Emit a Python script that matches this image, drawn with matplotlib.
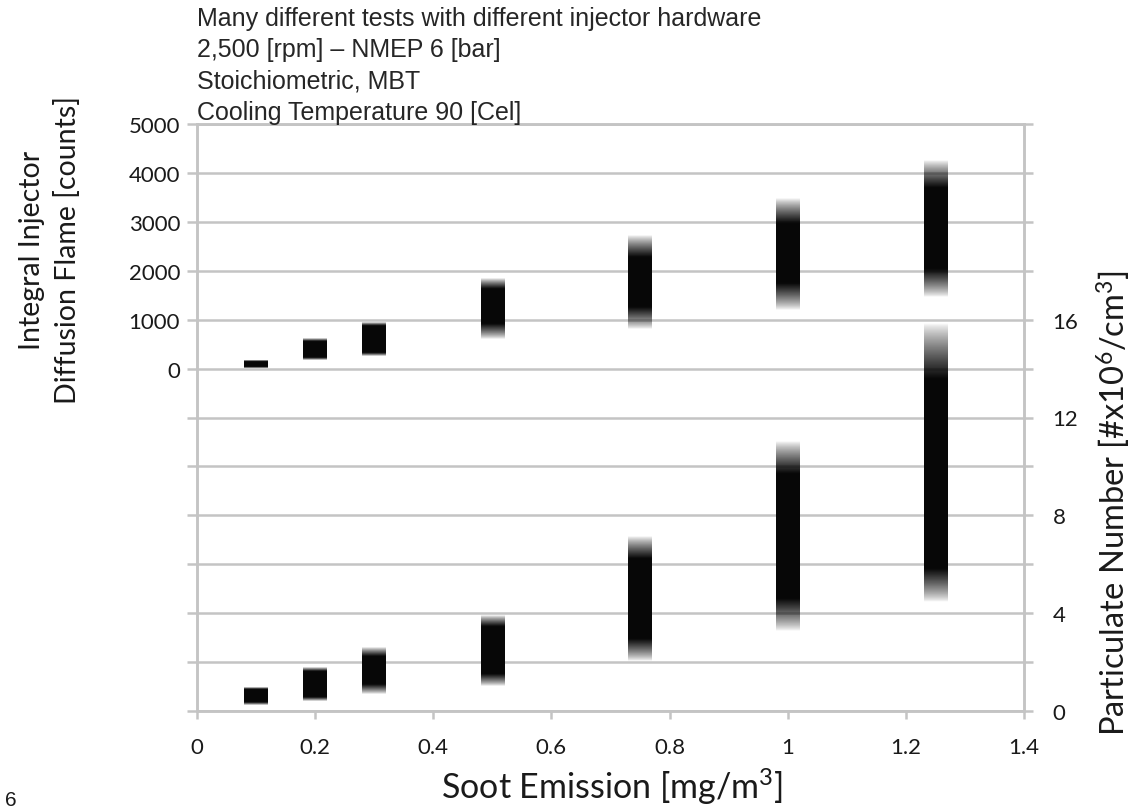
import numpy as np
import matplotlib
matplotlib.use("Agg")
import matplotlib.pyplot as plt

# ---------------- data ----------------
soot = [0.1, 0.2, 0.3, 0.5, 0.75, 1.0, 1.25]

# Integral injector diffusion flame [counts] (left axis): fade start, solid start, solid end, fade end
flame_outer_low = [20, 170, 260, 613, 818, 1192, 1472]
flame_core_low = [40, 220, 330, 920, 1262, 1738, 2040]
flame_core_high = [150, 540, 880, 1630, 2284, 2965, 3700]
flame_outer_high = [170, 600, 950, 1840, 2726, 3476, 4254]

# Particulate number [#x10^6/cm^3] (right axis)
pn_outer_low = [0.25, 0.41, 0.70, 1.02, 2.04, 3.27, 4.46]
pn_core_low = [0.37, 0.57, 1.10, 1.51, 2.94, 4.58, 5.81]
pn_core_high = [0.90, 1.60, 2.25, 3.44, 6.22, 9.69, 13.58]
pn_outer_high = [0.98, 1.76, 2.62, 3.89, 7.12, 11.0, 15.83]

x_ticks = [0, 0.2, 0.4, 0.6, 0.8, 1.0, 1.2, 1.4]
x_tick_labels = ["0", "0.2", "0.4", "0.6", "0.8", "1", "1.2", "1.4"]
left_labeled = [0, 1000, 2000, 3000, 4000, 5000]
right_labeled = [0, 4, 8, 12, 16]

title_lines = [
    "Many different tests with different injector hardware",
    "2,500 [rpm] \u2013 NMEP 6 [bar]",
    "Stoichiometric, MBT",
    "Cooling Temperature 90 [Cel]",
]

# ---------------- style ----------------
plt.rcParams["mathtext.fontset"] = "custom"
plt.rcParams["mathtext.rm"] = "Lato"
plt.rcParams["mathtext.it"] = "Lato:italic"
plt.rcParams["mathtext.bf"] = "Lato:bold"
LAB_FONT = ["Lato", "DejaVu Sans"]
TXT_FONT = ["Liberation Sans", "DejaVu Sans"]
GRID = "#c4c4c4"
TXT = "#1a1a1a"

W, H = 1137, 812
fig = plt.figure(figsize=(W / 100, H / 100), dpi=100)
x0, x1, y0, y1 = 197, 1024, 125, 712
ax = fig.add_axes([x0 / W, 1 - y1 / H, (x1 - x0) / W, (y1 - y0) / H])
ax2 = ax.twinx()

ax.set_xlim(0, 1.4)
ax.set_ylim(-7000, 5000)
ax2.set_ylim(0, 24)

# grid/ticks
left_all = list(range(-7000, 5001, 1000))
ax.set_yticks(left_all)
ax.set_yticklabels([str(v) if v in left_labeled else "" for v in left_all])
right_all = list(range(0, 25, 2))
ax2.set_yticks(right_all)
ax2.set_yticklabels([str(v) if v in right_labeled else "" for v in right_all])
ax.set_xticks(x_ticks)
ax.set_xticklabels(x_tick_labels)

ax.set_axisbelow(True)
ax.yaxis.grid(True, color=GRID, lw=1.8)
ax.xaxis.grid(False)

for a in (ax, ax2):
    for s in a.spines.values():
        s.set_color(GRID)
        s.set_linewidth(1.8)

ax.tick_params(axis="y", direction="out", length=7.2, width=1.8, color=GRID,
               pad=5, labelsize=16, labelcolor=TXT)
ax.tick_params(axis="x", direction="out", length=6, width=1.8, color=GRID,
               pad=13, labelsize=16, labelcolor=TXT)
ax2.tick_params(axis="y", direction="out", length=6.5, width=1.8, color=GRID,
                pad=14, labelsize=16, labelcolor=TXT)
for lab in ax.get_xticklabels() + ax.get_yticklabels() + ax2.get_yticklabels():
    lab.set_family(LAB_FONT)


def draw_band(axis, x, lo, clo, chi, hi, width=0.04):
    n = 500
    yy = np.linspace(lo, hi, n)
    a_lo = (yy - lo) / max(clo - lo, 1e-9)
    a_hi = (hi - yy) / max(hi - chi, 1e-9)
    alpha = np.clip(np.minimum(a_lo, a_hi), 0, 1) ** 0.8
    img = np.zeros((n, 1, 4))
    img[..., :3] = 0.03
    img[:, 0, 3] = alpha
    axis.imshow(img, extent=[x - width / 2, x + width / 2, lo, hi], origin="lower",
                aspect="auto", interpolation="bilinear", zorder=3)


for i, xv in enumerate(soot):
    draw_band(ax, xv, flame_outer_low[i], flame_core_low[i], flame_core_high[i], flame_outer_high[i])
    draw_band(ax2, xv, pn_outer_low[i], pn_core_low[i], pn_core_high[i], pn_outer_high[i])

ax.set_xlim(0, 1.4)
ax.set_ylim(-7000, 5000)
ax2.set_ylim(0, 24)

# axis labels
fig.text(612 / W, 1 - 787 / H, "Soot Emission [mg/m$^{3}$]", ha="center", va="center",
         fontsize=24.5, family=LAB_FONT, color=TXT)
fig.text(32 / W, 1 - 250 / H, "Integral Injector", rotation=90, ha="center", va="center",
         fontsize=20.5, family=LAB_FONT, color=TXT)
fig.text(68 / W, 1 - 250 / H, "Diffusion Flame [counts]", rotation=90, ha="center", va="center",
         fontsize=20.5, family=LAB_FONT, color=TXT)
fig.text(1114 / W, 1 - 503 / H, "Particulate Number [#x10$^{6}$/cm$^{3}$]", rotation=90,
         ha="center", va="center", fontsize=23.5, family=LAB_FONT, color=TXT)

# title block
for k, line in enumerate(title_lines):
    yc = 19 + k * 31.3
    fig.text(197 / W, 1 - yc / H, line, ha="left", va="center", fontsize=18,
             family=TXT_FONT, color="#262626")

# stray page number fragment at the lower-left corner
fig.text(5 / W, 1 - 810 / H, "6", ha="left", va="bottom", fontsize=15, family=TXT_FONT, color=TXT)

fig.savefig("out.png", dpi=100)
